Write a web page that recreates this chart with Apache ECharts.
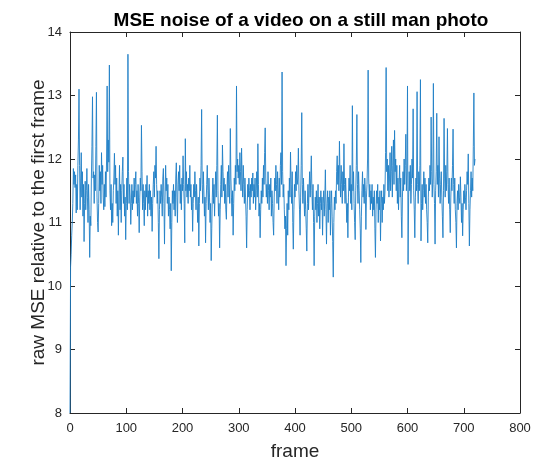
<!DOCTYPE html>
<html>
<head>
<meta charset="utf-8">
<script src="https://cdn.jsdelivr.net/npm/echarts@6/dist/echarts.min.js"></script>
<style>
  html, body { margin: 0; padding: 0; background: #fff; }
  #main { width: 540px; height: 460px; }
</style>
</head>
<body>
<div id="main"></div>
<script>
// raw MSE of every frame against frame 0 (frame index = position in array)
var mse = [
  8.0, 10.3, 10.5, 10.8, 11.0, 11.3, 11.85, 11.6, 11.8, 11.55,
  11.75, 11.15, 11.6, 11.2, 11.9, 12.3, 13.1, 11.9, 11.2, 11.7,
  12.1, 11.4, 11.8, 11.1, 11.6, 10.7, 11.3, 11.65, 11.2, 11.5,
  11.85, 11.4, 11.0, 11.6, 11.2, 10.45, 11.1, 10.95, 11.7, 12.2,
  12.98, 11.7, 11.8, 11.3, 11.75, 11.5, 12.2, 13.05, 11.4, 11.0,
  10.85, 11.3, 11.9, 11.5, 11.8, 11.3, 12.1, 11.6, 11.9, 11.4,
  11.2, 11.6, 11.25, 11.8, 11.4, 12.0, 13.15, 11.8, 12.3, 11.95,
  13.48, 11.5, 11.2, 11.6, 10.95, 11.3, 11.0, 11.5, 11.7, 12.09,
  11.6, 11.9, 11.3, 11.7, 11.1, 11.5, 10.8, 11.4, 11.9, 11.2,
  11.6, 11.0, 11.5, 11.8, 12.03, 11.3, 11.6, 11.1, 11.4, 10.73,
  11.3, 11.7, 11.2, 13.65, 11.8, 11.3, 11.6, 11.4, 10.97, 11.3,
  11.6, 11.2, 11.5, 11.3, 11.7, 11.4, 11.6, 11.8, 11.3, 11.5,
  11.1, 11.6, 11.3, 10.84, 11.4, 11.7, 11.5, 12.53, 11.8, 11.2,
  11.6, 11.3, 10.95, 11.5, 11.2, 11.6, 11.4, 11.74, 11.1, 11.5,
  11.3, 11.6, 11.2, 11.5, 11.1, 11.4, 10.86, 11.3, 11.6, 11.8,
  11.4, 11.9, 11.7, 12.2, 11.6, 11.3, 11.5, 11.0, 10.43, 11.2,
  11.5, 11.3, 11.6, 11.4, 11.1, 11.7, 11.85, 11.3, 10.66, 11.4,
  11.9, 11.5, 11.7, 11.3, 11.6, 11.1, 11.4, 11.2, 10.9, 11.3,
  10.24, 11.0, 11.5, 11.3, 11.6, 11.2, 11.5, 11.1, 11.7, 11.94,
  11.4, 11.0, 11.6, 11.8, 11.5, 11.9, 11.3, 11.6, 11.2, 11.7,
  11.5, 12.05, 11.6, 11.3, 10.68, 12.32, 11.5, 11.8, 11.4, 11.6,
  11.3, 11.7, 11.5, 11.9, 11.4, 11.6, 11.2, 11.4, 10.86, 11.3,
  11.6, 11.4, 11.8, 11.5, 11.2, 11.6, 11.3, 11.0, 11.4, 10.63,
  11.3, 11.7, 11.5, 11.9, 12.78, 11.6, 11.3, 11.8, 11.5, 11.1,
  11.4, 10.68, 11.3, 11.6, 11.9, 11.5, 11.2, 11.7, 11.4, 11.0,
  11.3, 10.4, 10.9, 11.4, 11.7, 11.3, 11.6, 11.1, 11.5, 11.8,
  11.4, 11.9, 12.69, 11.5, 11.1, 11.3, 10.6, 11.2, 11.6, 11.9,
  11.4, 12.22, 11.8, 11.5, 11.7, 11.3, 11.6, 11.2, 11.05, 11.5,
  11.8, 11.4, 11.9, 11.6, 11.3, 12.48, 11.7, 11.4, 11.1, 11.5,
  10.8, 11.3, 11.7, 11.5, 11.9, 11.6, 13.15, 11.8, 12.0, 11.7,
  11.9, 11.6, 12.1, 11.8, 11.5, 12.17, 11.7, 11.4, 11.9, 11.6,
  11.3, 11.7, 11.4, 11.1, 10.6, 11.2, 11.6, 11.4, 11.7, 11.5,
  11.2, 11.6, 11.4, 11.7, 11.5, 11.78, 11.3, 11.6, 11.4, 11.7,
  11.2, 11.5, 11.8, 11.4, 12.24, 11.6, 11.1, 11.3, 10.76, 11.2,
  11.5, 11.3, 11.7, 11.4, 11.9, 11.6, 12.1, 12.49, 11.7, 11.4,
  11.6, 11.3, 11.8, 11.5, 11.2, 11.6, 11.4, 11.7, 11.1, 11.5,
  11.3, 11.0, 10.8, 11.4, 11.7, 11.5, 11.9, 11.6, 11.3, 11.8,
  11.5, 11.2, 11.7, 11.4, 11.9, 12.1, 11.6, 13.37, 11.8, 11.4,
  11.6, 11.2, 10.9, 11.1, 10.32, 10.9, 11.3, 10.8, 11.5, 11.2,
  11.7, 11.4, 12.11, 11.6, 11.3, 11.8, 11.0, 10.58, 11.2, 11.6,
  11.4, 11.8, 11.5, 11.9, 11.6, 11.7, 12.17, 11.5, 11.2, 10.8,
  11.4, 11.9, 12.73, 11.6, 11.3, 11.7, 11.4, 11.1, 11.5, 11.2,
  10.9, 10.55, 11.3, 11.6, 11.2, 11.5, 11.8, 11.4, 11.7, 12.05,
  11.5, 11.2, 11.6, 11.0, 10.32, 11.1, 11.4, 11.2, 11.5, 11.0,
  11.3, 11.6, 11.1, 11.4, 10.9, 11.3, 11.5, 11.2, 11.4, 10.8,
  11.3, 11.5, 11.1, 11.4, 11.83, 11.2, 10.66, 11.3, 11.5, 11.0,
  11.4, 11.2, 11.5, 10.8, 11.3, 11.5, 11.1, 10.7, 10.14, 11.0,
  11.4, 11.2, 11.5, 11.3, 11.8, 12.05, 11.6, 11.9, 11.5, 12.28,
  11.7, 11.4, 11.9, 11.6, 11.3, 11.8, 11.5, 12.24, 11.6, 11.3,
  11.7, 11.4, 11.0, 11.3, 10.76, 11.4, 11.7, 11.5, 11.9, 11.3,
  11.6, 11.2, 12.84, 11.5, 11.8, 11.3, 11.0, 10.73, 11.5, 11.9,
  12.7, 11.6, 11.3, 11.8, 11.5, 11.2, 10.9, 10.37, 11.1, 11.5,
  11.8, 11.4, 11.6, 11.3, 11.7, 11.5, 10.89, 11.4, 11.6, 12.0,
  13.4, 11.7, 11.4, 11.6, 11.2, 11.5, 11.3, 11.6, 11.1, 11.4,
  11.2, 11.5, 10.9, 10.45, 11.2, 11.5, 11.3, 11.6, 11.0, 11.4,
  11.2, 11.5, 10.71, 11.3, 11.5, 11.0, 11.4, 11.2, 11.6, 11.3,
  11.5, 12.1, 13.44, 11.8, 12.0, 11.5, 11.9, 11.4, 11.7, 12.1,
  11.5, 11.8, 12.2, 11.4, 11.9, 12.3, 11.6, 12.45, 11.8, 12.0,
  11.5, 11.9, 11.3, 11.7, 11.2, 11.6, 11.9, 11.4, 11.7, 11.1,
  10.76, 11.4, 11.8, 11.5, 12.0, 11.6, 11.9, 12.39, 11.5, 11.8,
  13.15, 10.34, 11.4, 11.8, 11.5, 11.9, 11.3, 11.6, 12.0, 11.7,
  12.79, 11.5, 11.2, 10.76, 11.4, 11.7, 11.5, 13.06, 11.6, 11.3,
  11.8, 11.5, 11.9, 13.25, 10.71, 11.3, 11.6, 11.2, 11.5, 11.8,
  11.4, 11.7, 11.3, 11.6, 11.2, 11.0, 10.68, 11.4, 11.7, 11.5,
  11.9, 11.6, 12.66, 11.8, 11.4, 11.7, 13.19, 11.6, 11.3, 10.66,
  11.5, 11.8, 12.72, 11.6, 11.9, 11.4, 12.35, 11.7, 11.3, 11.6,
  11.8, 11.4, 11.1, 10.76, 11.5, 12.64, 11.7, 11.4, 11.9, 11.5,
  11.8, 12.48, 11.6, 11.3, 11.7, 11.2, 10.84, 11.4, 11.7, 11.5,
  11.9, 12.47, 11.6, 11.3, 11.7, 11.2, 11.0, 10.6, 11.3, 11.5,
  11.2, 11.6, 11.4, 11.3, 11.72, 11.4, 11.0, 11.3, 10.79, 11.2,
  11.5, 11.3, 11.6, 11.4, 11.2, 11.5, 11.8, 11.6, 12.08, 11.3,
  10.63, 11.2, 11.5, 11.8, 11.4, 11.7, 11.5, 12.2, 13.04, 11.9,
  12.0
]
var xTicks = [0, 800, 100]   // min, max, step
var yTicks = [8, 14, 1]

var axisColor = '#262626'
var fontFamily = '"Liberation Sans", Arial, Helvetica, sans-serif'

var points = mse.map(function (v, i) { return [i, v] })

var myChart = echarts.init(document.getElementById('main'))

function frameAxis (pos, showLabel) {
  return {
    type: 'value',
    position: pos,
    min: xTicks[0],
    max: xTicks[1],
    interval: xTicks[2],
    axisLine: { show: true, onZero: false, lineStyle: { color: axisColor, width: 1 } },
    axisTick: { show: true, inside: true, length: 5, lineStyle: { color: axisColor } },
    axisLabel: { show: showLabel, color: axisColor, fontSize: 13, margin: 9, fontFamily: fontFamily },
    splitLine: { show: false }
  }
}

function mseAxis (pos, showLabel) {
  return {
    type: 'value',
    position: pos,
    min: yTicks[0],
    max: yTicks[1],
    interval: yTicks[2],
    axisLine: { show: true, onZero: false, lineStyle: { color: axisColor, width: 1 } },
    axisTick: { show: true, inside: true, length: 5, lineStyle: { color: axisColor } },
    axisLabel: { show: showLabel, color: axisColor, fontSize: 13, margin: 8, fontFamily: fontFamily },
    splitLine: { show: false }
  }
}

var bottomX = frameAxis('bottom', true)
bottomX.name = 'frame'
bottomX.nameLocation = 'middle'
bottomX.nameGap = 29
bottomX.nameMoveOverlap = false
bottomX.nameTextStyle = { fontSize: 19, color: axisColor, fontFamily: fontFamily }

var leftY = mseAxis('left', true)
leftY.name = 'raw MSE relative to the first frame'
leftY.nameLocation = 'middle'
leftY.nameGap = 22
leftY.nameMoveOverlap = false
leftY.nameTextStyle = { fontSize: 19, color: axisColor, fontFamily: fontFamily }

var option = {
  animation: false,
  backgroundColor: '#fff',
  title: {
    text: 'MSE noise of a video on a still man photo',
    left: 296,
    top: 6,
    textAlign: 'center',
    textStyle: { fontSize: 19, fontWeight: 'bold', color: '#000', fontFamily: fontFamily }
  },
  grid: { left: 70, right: 20, top: 32, bottom: 47, containLabel: false, outerBoundsMode: 'none' },
  xAxis: [bottomX, frameAxis('top', false)],
  yAxis: [leftY, mseAxis('right', false)],
  series: [{
    type: 'line',
    xAxisIndex: 0,
    yAxisIndex: 0,
    data: points,
    showSymbol: false,
    lineStyle: { color: '#1f7fc6', width: 0.9 }
  }]
}

myChart.setOption(option)
</script>
</body>
</html>
